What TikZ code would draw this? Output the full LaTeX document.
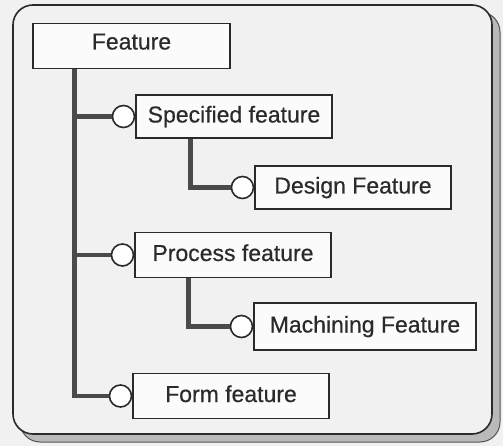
\documentclass[tikz,border=0pt]{standalone}
\usepackage{fontspec}
\setmainfont{Liberation Sans}
\usepackage{tikz}
\usetikzlibrary{positioning,calc}
\definecolor{ink}{HTML}{2A2A2A}
\definecolor{paper}{HTML}{F1F1F1}

\begin{document}
\begin{tikzpicture}[
  x=1pt, y=-1pt,
  font=\fontsize{23}{27}\selectfont\addfontfeature{FakeBold=0.5},
  fbox/.style={draw=ink, line width=1.5pt, fill=white!70!paper, text=ink, minimum width=#1, minimum height=45pt, inner sep=0pt, text height=17pt, text depth=5pt},
  fbox/.default=196pt,
  port/.style={draw=ink, circle, line width=1.6pt, fill=white, minimum size=22pt, inner sep=0pt},
  branch/.style={draw=ink!85, line width=4.5pt}]
% page and framed panel with shadow
\useasboundingbox[fill=paper] (0,0) rectangle (503,446);
\fill[gray!55, draw=ink!80, line width=1pt, rounded corners=20pt] (20,12) rectangle (500,442);
\draw[ink, line width=1.6pt, fill=paper, rounded corners=20pt] (13,5) rectangle (492,434);
% feature boxes
\node[fbox=197pt, text depth=10pt] (feat) at (131.5,46) {Feature};
\node[fbox, minimum height=43pt] (spec) at (234,116.5) {Specified feature};
\node[fbox, minimum height=43pt] (design) at (353,187.5) {Design Feature};
\node[fbox] (proc) at (233,255) {Process feature};
\node[fbox=222pt, minimum height=47pt] (mach) at (365,326.5) {Machining Feature};
\node[fbox] (form) at (231,396) {Form feature};
% ports
\node[port, left=0pt of spec] (pspec) {};
\node[port, left=0pt of design] (pdesign) {};
\node[port, left=0pt of proc] (pproc) {};
\node[port, left=0pt of mach] (pmach) {};
\node[port, left=0pt of form] (pform) {};
% connectors
\coordinate (trunk) at ([xshift=42pt]feat.south west);
\coordinate (sspec) at ([xshift=55pt]spec.south west);
\coordinate (sproc) at ([xshift=54pt]proc.south west);
\draw[branch] (trunk) |- (pform.west);
\draw[branch] (trunk |- pspec) -- (pspec.west);
\draw[branch] (trunk |- pproc) -- (pproc.west);
\draw[branch] (sspec) |- (pdesign.west);
\draw[branch] (sproc) |- (pmach.west);
\end{tikzpicture}
\end{document}
